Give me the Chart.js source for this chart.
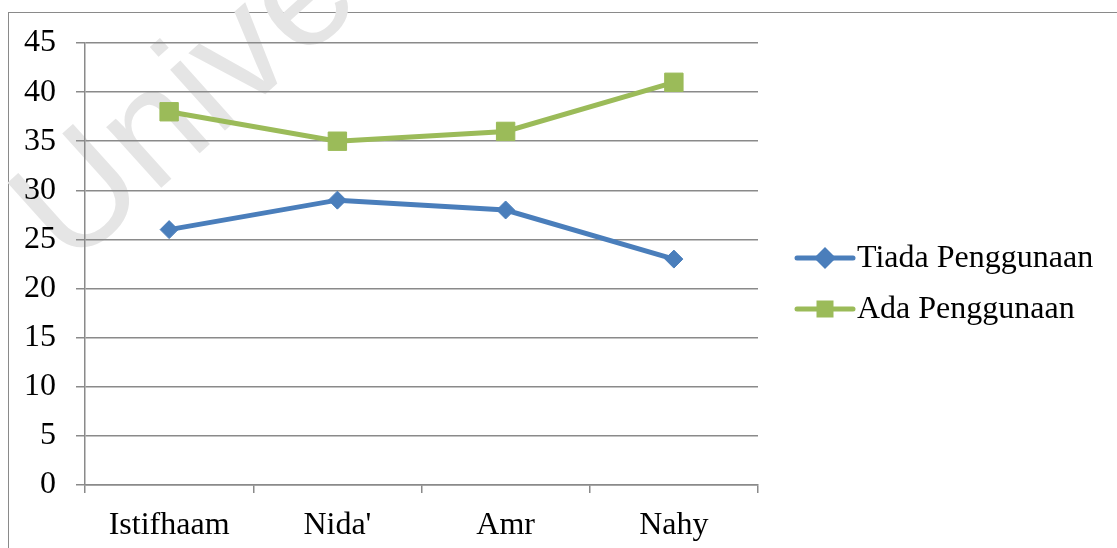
<!DOCTYPE html>
<html>
<head>
<meta charset="utf-8">
<script src="https://cdn.jsdelivr.net/npm/chart.js@4/dist/chart.umd.min.js"></script>
<style>
  html, body { margin: 0; padding: 0; background: #ffffff; overflow: hidden; }
  #wrap { position: relative; width: 1117px; height: 548px; }
  #frame { position: absolute; left: 8px; top: 12px; width: 1200px; height: 600px;
           border-left: 1px solid #8a8a8a; border-top: 1px solid #8a8a8a; }
  canvas { position: absolute; left: 0; top: 0; }
</style>
</head>
<body>
<div id="wrap">
  <div id="frame"></div>
  <canvas id="chart" width="1117" height="548"></canvas>
</div>
<script>
// Categories and series
const categories = ["Istifhaam", "Nida'", "Amr", "Nahy"];
const tiadaPenggunaan = [26, 29, 28, 23];
const adaPenggunaan = [38, 35, 36, 41];
const seriesNames = ["Tiada Penggunaan", "Ada Penggunaan"];
const yMin = 0, yMax = 45, yStep = 5;
const watermarkText = "Universiti";

const BLUE = "#4a7ebb";
const GREEN = "#9bbb59";
const GRID = "#8a8a8a";
const SERIF = "'Liberation Serif', 'Times New Roman', serif";
const FONT_SIZE = 32;

// Faint diagonal watermark behind the plot
const watermark = {
  id: "watermark",
  beforeDraw(chart) {
    const ctx = chart.ctx;
    ctx.save();
    ctx.translate(70, 270);
    ctx.rotate(-42 * Math.PI / 180);
    ctx.font = "155px 'Liberation Sans', Arial, sans-serif";
    ctx.fillStyle = "#e5e5e5";
    ctx.textBaseline = "alphabetic";
    ctx.fillText(watermarkText, 0, 0);
    ctx.restore();
  }
};

// Legend on the right: line segment with marker, then the series name
const lineLegend = {
  id: "lineLegend",
  afterDraw(chart) {
    const ctx = chart.ctx;
    const x0 = 797, x1 = 853, xm = 825, xt = 857;
    const rows = [258, 309];
    chart.data.datasets.forEach((ds, i) => {
      const y = rows[i];
      ctx.save();
      ctx.strokeStyle = ds.borderColor;
      ctx.lineWidth = 5;
      ctx.lineCap = "round";
      ctx.beginPath();
      ctx.moveTo(x0, y);
      ctx.lineTo(x1, y);
      ctx.stroke();
      ctx.fillStyle = ds.borderColor;
      ctx.beginPath();
      if (ds.pointStyle === "rectRot") {
        const r = 11;
        ctx.moveTo(xm - r, y);
        ctx.lineTo(xm, y - r);
        ctx.lineTo(xm + r, y);
        ctx.lineTo(xm, y + r);
        ctx.closePath();
      } else {
        const s = 17;
        ctx.rect(xm - s / 2, y - s / 2, s, s);
      }
      ctx.fill();
      ctx.fillStyle = "#000000";
      ctx.font = FONT_SIZE + "px " + SERIF;
      ctx.textBaseline = "middle";
      ctx.textAlign = "left";
      ctx.fillText(ds.label, xt, y + 1);
      ctx.restore();
    });
  }
};

new Chart(document.getElementById("chart"), {
  type: "line",
  data: {
    labels: categories,
    datasets: [
      {
        label: seriesNames[0],
        data: tiadaPenggunaan,
        borderColor: BLUE,
        backgroundColor: BLUE,
        borderWidth: 5,
        pointStyle: "rectRot",
        pointRadius: 9,
        pointBorderWidth: 1,
        pointBorderColor: BLUE,
        pointBackgroundColor: BLUE,
        tension: 0
      },
      {
        label: seriesNames[1],
        data: adaPenggunaan,
        borderColor: GREEN,
        backgroundColor: GREEN,
        borderWidth: 5,
        pointStyle: "rect",
        pointRadius: 13,
        pointBorderWidth: 1,
        pointBorderColor: GREEN,
        pointBackgroundColor: GREEN,
        tension: 0
      }
    ]
  },
  options: {
    responsive: false,
    animation: false,
    events: [],
    layout: { padding: { left: 10, top: 43, right: 359, bottom: 0 } },
    plugins: {
      legend: { display: false },
      tooltip: { enabled: false }
    },
    scales: {
      x: {
        offset: true,
        grid: {
          offset: true,
          drawOnChartArea: false,
          drawTicks: true,
          tickLength: 8,
          color: GRID,
          lineWidth: 1.5
        },
        border: { color: GRID, width: 1.5 },
        ticks: {
          color: "#000000",
          font: { family: SERIF, size: FONT_SIZE },
          padding: 13,
          maxRotation: 0
        },
        afterFit(scale) { scale.height = 63; }
      },
      y: {
        min: yMin,
        max: yMax,
        grid: {
          color: GRID,
          lineWidth: 1.5,
          tickLength: 9
        },
        border: { color: GRID, width: 1.5 },
        ticks: {
          stepSize: yStep,
          color: "#000000",
          font: { family: SERIF, size: FONT_SIZE },
          padding: 20
        },
        afterFit(scale) { scale.width = 75; }
      }
    }
  },
  plugins: [watermark, lineLegend]
});
</script>
</body>
</html>
